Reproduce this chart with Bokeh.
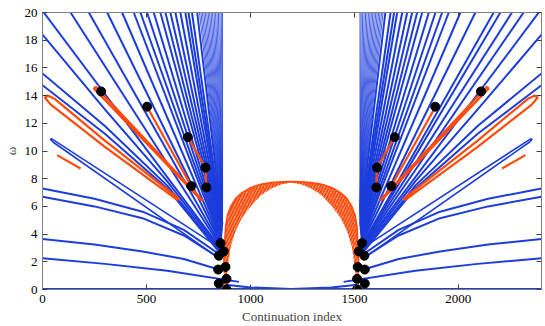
from bokeh.plotting import figure
from bokeh.models import LinearAxis, Range1d, FixedTicker
from bokeh.embed import file_html
from bokeh.resources import INLINE

BLUE = "#1c3ddc"
ORANGE = "#ff4a0a"

# ---------------- data ----------------
# left fan: branches entering through the top edge (omega = 20)
fanL_x0 = [6, 135, 223, 311, 383, 439, 471, 503, 535, 567, 591, 615, 639, 663, 687, 702, 719, 744]
fanL_xe = [855, 856, 857, 858, 858, 859, 859, 860, 860, 861, 861, 862, 862, 863, 863, 864, 864, 865]
fanL_ye = [3.0, 3.1, 3.2, 3.3, 3.4, 3.5, 3.6, 3.7, 3.8, 3.9, 4.0, 4.1, 4.2, 4.3, 4.4, 4.5, 4.6, 4.7]
# dense near-vertical bundle on the left
denseL_x0 = [755, 762, 769, 776, 783, 790, 797, 804, 811, 818, 825, 832, 839, 846, 853, 860, 866]
denseL_ye = [4.8, 4.9, 5.0, 5.0, 5.1, 5.2, 5.2, 5.3, 5.4, 5.4, 5.5, 5.6, 5.6, 5.7, 5.8, 5.9, 6.0]
# left fan: branches entering through the left edge (index 0), as traced points
edgeL_x = [[0, 300, 600, 855], [0, 300, 600, 852], [0, 300, 600, 850],
           [0, 250, 481, 680, 845], [0, 250, 481, 680, 848],
           [0, 250, 481, 680, 848], [0, 300, 600, 945]]
edgeL_y = [[18.4, 13.0, 7.8, 2.9], [15.6, 11.8, 7.5, 2.8], [14.75, 11.25, 7.3, 2.7],
           [7.3, 6.55, 5.62, 4.3, 2.6], [6.7, 6.0, 5.15, 3.9, 2.3],
           [3.65, 3.25, 2.75, 2.2, 1.45], [2.25, 1.85, 1.35, 0.55]]
# thin blue loop on the left
loopBL_x = [845, 50, 38, 45, 858]
loopBL_y = [2.3, 10.65, 10.85, 10.88, 2.95]

# right fan: branches entering through the top edge
fanR_x0 = [2387, 2314, 2258, 2202, 2170, 2082, 2010, 1954, 1922, 1890, 1858, 1826, 1802, 1778, 1754, 1730, 1706, 1691, 1674, 1649]
fanR_xe = [1538, 1538, 1537, 1537, 1536, 1535, 1535, 1534, 1534, 1533, 1533, 1532, 1532, 1531, 1531, 1530, 1530, 1529, 1529, 1528]
fanR_ye = [3.0, 3.05, 3.1, 3.15, 3.2, 3.3, 3.4, 3.5, 3.6, 3.7, 3.8, 3.9, 4.0, 4.1, 4.2, 4.3, 4.4, 4.5, 4.6, 4.7]
denseR_x0 = [1638, 1631, 1624, 1617, 1610, 1603, 1596, 1589, 1582, 1575, 1568, 1561, 1554, 1547, 1540, 1533, 1527]
denseR_ye = [4.8, 4.9, 5.0, 5.0, 5.1, 5.2, 5.2, 5.3, 5.4, 5.4, 5.5, 5.6, 5.6, 5.7, 5.8, 5.9, 6.0]
# right fan: branches entering through the right edge (index 2400)
edgeR_x = [[2400, 2093, 1793, 1538], [2400, 2093, 1793, 1541], [2400, 2093, 1793, 1543],
           [2400, 2143, 1912, 1713, 1548], [2400, 2143, 1912, 1713, 1545],
           [2400, 2143, 1912, 1713, 1545], [2400, 2093, 1793, 1448]]
edgeR_y = [[18.4, 13.0, 7.8, 2.9], [15.6, 11.8, 7.5, 2.8], [14.75, 11.25, 7.3, 2.7],
           [7.3, 6.55, 5.62, 4.3, 2.6], [6.7, 6.0, 5.15, 3.9, 2.3],
           [3.65, 3.25, 2.75, 2.2, 1.45], [2.25, 1.85, 1.35, 0.55]]
loopBR_x = [1548, 2343, 2355, 2348, 1535]
loopBR_y = [2.3, 10.65, 10.85, 10.88, 2.95]

# trivial branch and the shallow branch between the two fans
zero_x = [0, 2400]
zero_y = [0, 0]
bowl_x = [880, 1000, 1196, 1390, 1513]
bowl_y = [0.35, 0.15, 0.03, 0.15, 0.35]

# orange branches, left side
orL1_x = [660, 300, 60, 25, 12, 40, 300, 645, 660]
orL1_y = [6.5, 10.75, 13.75, 14.0, 13.85, 13.35, 10.3, 6.5, 6.5]
orL2_x = [255, 770, 760, 248, 255]
orL2_y = [14.65, 6.45, 6.5, 14.5, 14.65]
orL3_x = [492, 503, 715]
orL3_y = [13.45, 13.2, 7.47]
orL4_x = [699, 784, 788]
orL4_y = [11.0, 8.8, 7.37]
orL5_x = [70, 183]
orL5_y = [9.7, 8.74]
# orange branches, right side
orR1_x = [1733, 2093, 2333, 2368, 2381, 2353, 2093, 1748, 1733]
orR1_y = [6.5, 10.75, 13.75, 14.0, 13.85, 13.35, 10.3, 6.5, 6.5]
orR2_x = [2138, 1623, 1633, 2145, 2138]
orR2_y = [14.65, 6.45, 6.5, 14.5, 14.65]
orR3_x = [1901, 1890, 1678]
orR3_y = [13.45, 13.2, 7.47]
orR4_x = [1694, 1609, 1605]
orR4_y = [11.0, 8.8, 7.37]
orR5_x = [2323, 2210]
orR5_y = [9.7, 8.74]

# orange arch (band of many short branches) between the fans
arch_x = [872, 880, 890, 905, 930, 960, 1000, 1050, 1100, 1150, 1196,
          1243, 1293, 1343, 1393, 1433, 1463, 1488, 1503, 1513, 1521]
arch_top = [2.0, 4.5, 5.4, 6.0, 6.6, 7.0, 7.35, 7.6, 7.72, 7.78, 7.8,
            7.78, 7.72, 7.6, 7.35, 7.0, 6.6, 6.0, 5.4, 4.5, 2.0]
arch_bot = [0.0, 0.3, 1.5, 3.1, 4.3, 5.2, 6.0, 6.8, 7.3, 7.6, 7.72,
            7.6, 7.3, 6.8, 6.0, 5.2, 4.3, 3.1, 1.5, 0.3, 0.0]

# bifurcation points
dot_x = [282, 503, 699, 784, 715, 788, 856, 872, 848, 880, 845, 885, 848, 885,
         2109, 1889, 1694, 1609, 1678, 1606, 1537, 1521, 1548, 1516, 1550, 1513, 1550, 1513]
dot_y = [14.3, 13.2, 11.0, 8.8, 7.47, 7.37, 3.35, 2.75, 2.44, 1.63, 1.44, 0.77, 0.43, 0.0,
         14.3, 13.2, 11.0, 8.8, 7.47, 7.37, 3.35, 2.75, 2.44, 1.63, 1.44, 0.77, 0.43, 0.0]

x_ticks = [0, 500, 1000, 1500, 2000]
y_ticks = [0, 2, 4, 6, 8, 10, 12, 14, 16, 18, 20]

# ---------------- figure ----------------
p = figure(width=545, height=326, x_range=Range1d(0, 2400), y_range=Range1d(0, 20),
           output_backend="svg", toolbar_location=None,
           min_border_left=40, min_border_right=4, min_border_top=12, min_border_bottom=36)
p.grid.visible = False
p.outline_line_color = "#808080"
p.background_fill_color = "white"

FONT = "Liberation Serif"
for ax in (p.xaxis[0], p.yaxis[0]):
    ax.major_label_text_font = FONT
    ax.major_label_text_font_size = "13px"
    ax.major_label_text_color = "black"
    ax.axis_label_text_font = FONT
    ax.axis_label_text_font_size = "13px"
    ax.axis_label_text_font_style = "normal"
    ax.axis_line_color = "#808080"
    ax.major_tick_in = 5
    ax.major_tick_out = 0
    ax.major_tick_line_color = "#404040"
    ax.minor_tick_line_color = None
p.xaxis.ticker = FixedTicker(ticks=x_ticks)
p.yaxis.ticker = FixedTicker(ticks=y_ticks)
p.xaxis.axis_label = "Continuation index"
p.yaxis.axis_label = "ω"
p.xaxis.major_label_standoff = 5
p.xaxis.axis_label_standoff = 3
p.yaxis.major_label_standoff = 5
p.yaxis.axis_label_standoff = 3

top = LinearAxis(ticker=FixedTicker(ticks=x_ticks),
                 major_label_overrides={t: "" for t in x_ticks},
                 major_tick_in=5, major_tick_out=0, minor_tick_line_color=None,
                 axis_line_color="#808080", major_tick_line_color="#404040",
                 major_label_standoff=0)
right = LinearAxis(ticker=FixedTicker(ticks=y_ticks),
                   major_label_overrides={t: "" for t in y_ticks},
                   major_tick_in=5, major_tick_out=0, minor_tick_line_color=None,
                   axis_line_color="#808080", major_tick_line_color="#404040",
                   major_label_standoff=0)
p.add_layout(top, "above")
p.add_layout(right, "right")

# blue branches
bxs, bys = [], []
for x0, xe, ye in zip(fanL_x0, fanL_xe, fanL_ye):
    bxs.append([x0, xe]); bys.append([20, ye])
for x0, xe, ye in zip(fanR_x0, fanR_xe, fanR_ye):
    bxs.append([x0, xe]); bys.append([20, ye])
bxs += edgeL_x + edgeR_x + [bowl_x]
bys += edgeL_y + edgeR_y + [bowl_y]
p.multi_line(bxs, bys, line_color=BLUE, line_width=2, line_join="round")
p.multi_line([loopBL_x, loopBR_x], [loopBL_y, loopBR_y], line_color=BLUE, line_width=1.6)

dxs, dys = [], []
for x0, ye in zip(denseL_x0, denseL_ye):
    dxs.append([x0, 866]); dys.append([20, ye])
for x0, ye in zip(denseR_x0, denseR_ye):
    dxs.append([x0, 1527]); dys.append([20, ye])
p.multi_line(dxs, dys, line_color=BLUE, line_width=0.9, line_alpha=0.9)
p.line(zero_x, zero_y, line_color=BLUE, line_width=3)

# orange arch band
p.varea(x=arch_x, y1=arch_bot, y2=arch_top, fill_color=ORANGE, fill_alpha=0.45,
        hatch_pattern="right_diagonal_line", hatch_color=ORANGE, hatch_scale=6, hatch_weight=2)
p.line(arch_x, arch_top, line_color=ORANGE, line_width=1.5)

# orange branches
oxs = [orL1_x, orL2_x, orL3_x, orL4_x, orL5_x, orR1_x, orR2_x, orR3_x, orR4_x, orR5_x]
oys = [orL1_y, orL2_y, orL3_y, orL4_y, orL5_y, orR1_y, orR2_y, orR3_y, orR4_y, orR5_y]
p.multi_line(oxs, oys, line_color=ORANGE, line_width=2.2, line_join="round")

# bifurcation points
p.scatter(dot_x, dot_y, size=9, fill_color="black", line_color="black")

open("out.html", "w").write(file_html(p, INLINE))
